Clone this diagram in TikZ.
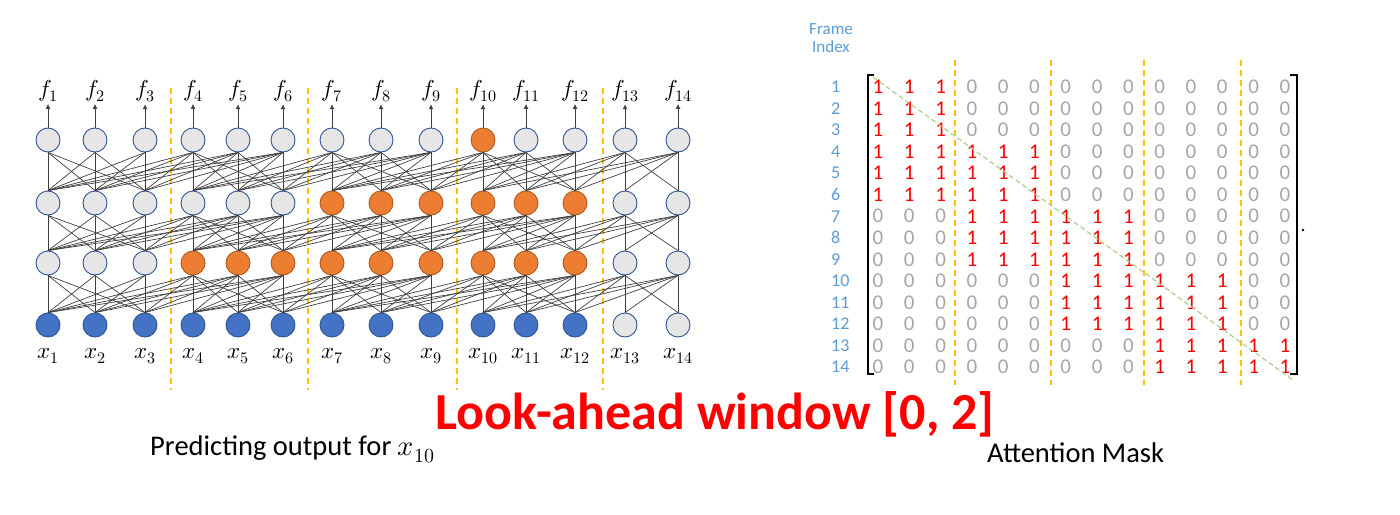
\documentclass[tikz,border=0pt]{standalone}
\usepackage{fontspec}
\usepackage{unicode-math}
\setmainfont{Carlito}
\setmathfont{Latin Modern Math}
\usetikzlibrary{arrows.meta}
\definecolor{nblue}{HTML}{4472C4}
\definecolor{nblueD}{HTML}{2F5597}
\definecolor{norange}{HTML}{ED7D31}
\definecolor{norangeD}{HTML}{AE5A21}
\definecolor{ngray}{HTML}{E7E6E6}
\definecolor{dashy}{HTML}{FFC000}
\definecolor{zgray}{HTML}{A6A6A6}
\definecolor{idxblue}{HTML}{5B9BD5}
\definecolor{diaggreen}{HTML}{A9D18E}
\definecolor{edgegray}{HTML}{404040}
\tikzset{
  unit/.style={circle, minimum size=24pt, inner sep=0pt, line width=0.9pt},
  gnode/.style={unit, fill=ngray, draw=nblueD},
  bnode/.style={unit, fill=nblue, draw=nblueD},
  onode/.style={unit, fill=norange, draw=norangeD},
  conn/.style={draw=edgegray, line width=0.7pt},
  outarrow/.style={draw=edgegray, line width=0.9pt, -{Latex[length=5pt,width=5pt]}},
  chunksep/.style={draw=dashy, line width=1.6pt, dash pattern=on 6pt off 4pt},
  mathlbl/.style={font=\fontsize{23}{26}\selectfont, inner sep=0pt},
  onecell/.style={text=red, font=\fontsize{21}{24}\selectfont, inner sep=0pt},
  zerocell/.style={text=zgray, font=\fontsize{21}{24}\selectfont, inner sep=0pt},
  idx/.style={text=idxblue, font=\fontsize{18}{20}\selectfont, inner sep=0pt, anchor=west},
  bracketline/.style={draw=black, line width=1.8pt},
  caption/.style={font=\fontsize{28.5}{33}\selectfont, anchor=base west, inner sep=0pt},
}
\begin{document}
\begin{tikzpicture}[x=1pt,y=-1pt]
\useasboundingbox (0,0) rectangle (1400,514);

% ---------- chunk separators (network) ----------
\foreach \xx [count=\k] in {171,308,457,603} {
  \coordinate (ls\k a) at (\xx,88);
  \coordinate (ls\k b) at (\xx,390);
  \draw[chunksep] (ls\k a) -- (ls\k b);
}

% ---------- nodes ----------
\foreach \x [count=\i] in {48,95,145,193,238,283,332,381,431,483,526,575,625,678} {
  \foreach \l/\yy in {0/325,1/263,2/203,3/140} {
    \def\sty{gnode}
    \ifnum\l=0 \ifnum\i<13 \def\sty{bnode}\fi\fi
    \ifnum\l=1 \ifnum\i>3 \ifnum\i<13 \def\sty{onode}\fi\fi\fi
    \ifnum\l=2 \ifnum\i>6 \ifnum\i<13 \def\sty{onode}\fi\fi\fi
    \ifnum\l=3 \ifnum\i=10 \def\sty{onode}\fi\fi
    \node[\sty] (n\l-\i) at (\x,\yy) {};
  }
  \node[mathlbl, anchor=base] (f\i) at (\x,96) {$f_{\i}$};
  \node[mathlbl, anchor=base] (x\i) at (\x,358) {$x_{\i}$};
  \draw[outarrow] (n3-\i.north) -- ([yshift=-2pt]f\i.south);
}

% ---------- connections ----------
\foreach \l [evaluate=\l as \lo using int(\l-1)] in {1,2,3} {
  \foreach \i in {1,...,14} {
    \pgfmathtruncatemacro\c{int((\i-1)/3)}
    \pgfmathtruncatemacro\jlo{max(1,3*\c-2)}
    \pgfmathtruncatemacro\jhi{min(14,3*\c+3)}
    \foreach \j in {\jlo,...,\jhi} {
      \draw[conn] (n\l-\i.south) -- (n\lo-\j.north);
    }
  }
}
\foreach \i in {1,...,14} {
  \draw[conn] (n0-\i.north) -- (n1-\i.south);
}

% ---------- captions ----------
\node[caption] (pred) at (150,455) {Predicting output for $x_{10}$};
\node[caption] (attn) at (987,462) {Attention Mask};
\node[font=\fontsize{52}{58}\selectfont\bfseries, text=red, anchor=base, inner sep=0pt] (look) at (715,429) {Look-ahead window [0, 2]};

% ---------- attention mask ----------
\node[text=idxblue, font=\fontsize{17}{19}\selectfont, inner sep=0pt, align=center] (fidx) at (831,38) {Frame\\[-1pt]Index};

\foreach \xx [count=\k] in {955,1051,1144,1241} {
  \coordinate (ms\k a) at (\xx,60);
  \coordinate (ms\k b) at (\xx,385);
  \draw[chunksep] (ms\k a) -- (ms\k b);
}

\foreach \r in {1,...,14} {
  \pgfmathsetmacro\ry{87+(\r-1)*21.54}
  \node[idx] (row\r) at (831,\ry) {\r};
  \pgfmathtruncatemacro\cr{int((\r-1)/3)}
  \foreach \c in {1,...,14} {
    \pgfmathsetmacro\cx{878+(\c-1)*31.3}
    \pgfmathtruncatemacro\cc{int((\c-1)/3)}
    \pgfmathtruncatemacro\on{(\cc==\cr || \cc==\cr-1) ? 1 : 0}
    \ifnum\on=1
      \node[onecell] (m\r-\c) at (\cx,\ry) {1};
    \else
      \node[zerocell] (m\r-\c) at (\cx,\ry) {0};
    \fi
  }
}

% brackets
\coordinate (lbt) at (874,75);
\coordinate (lbtc) at (868,75);
\coordinate (lbbc) at (868,374);
\coordinate (lbb) at (874,374);
\draw[bracketline] (lbt) -- (lbtc) -- (lbbc) -- (lbb);
\coordinate (rbt) at (1290,75);
\coordinate (rbtc) at (1297,75);
\coordinate (rbbc) at (1297,374);
\coordinate (rbb) at (1290,374);
\draw[bracketline] (rbt) -- (rbtc) -- (rbbc) -- (rbb);
\fill (1303,230) circle (1.3pt);

% diagonal
\coordinate (dstart) at (873,77);
\coordinate (dend) at (1293,380);
\draw[draw=diaggreen, line width=1.2pt, dash pattern=on 5pt off 3pt] (dstart) -- (dend);

\end{tikzpicture}
\end{document}
